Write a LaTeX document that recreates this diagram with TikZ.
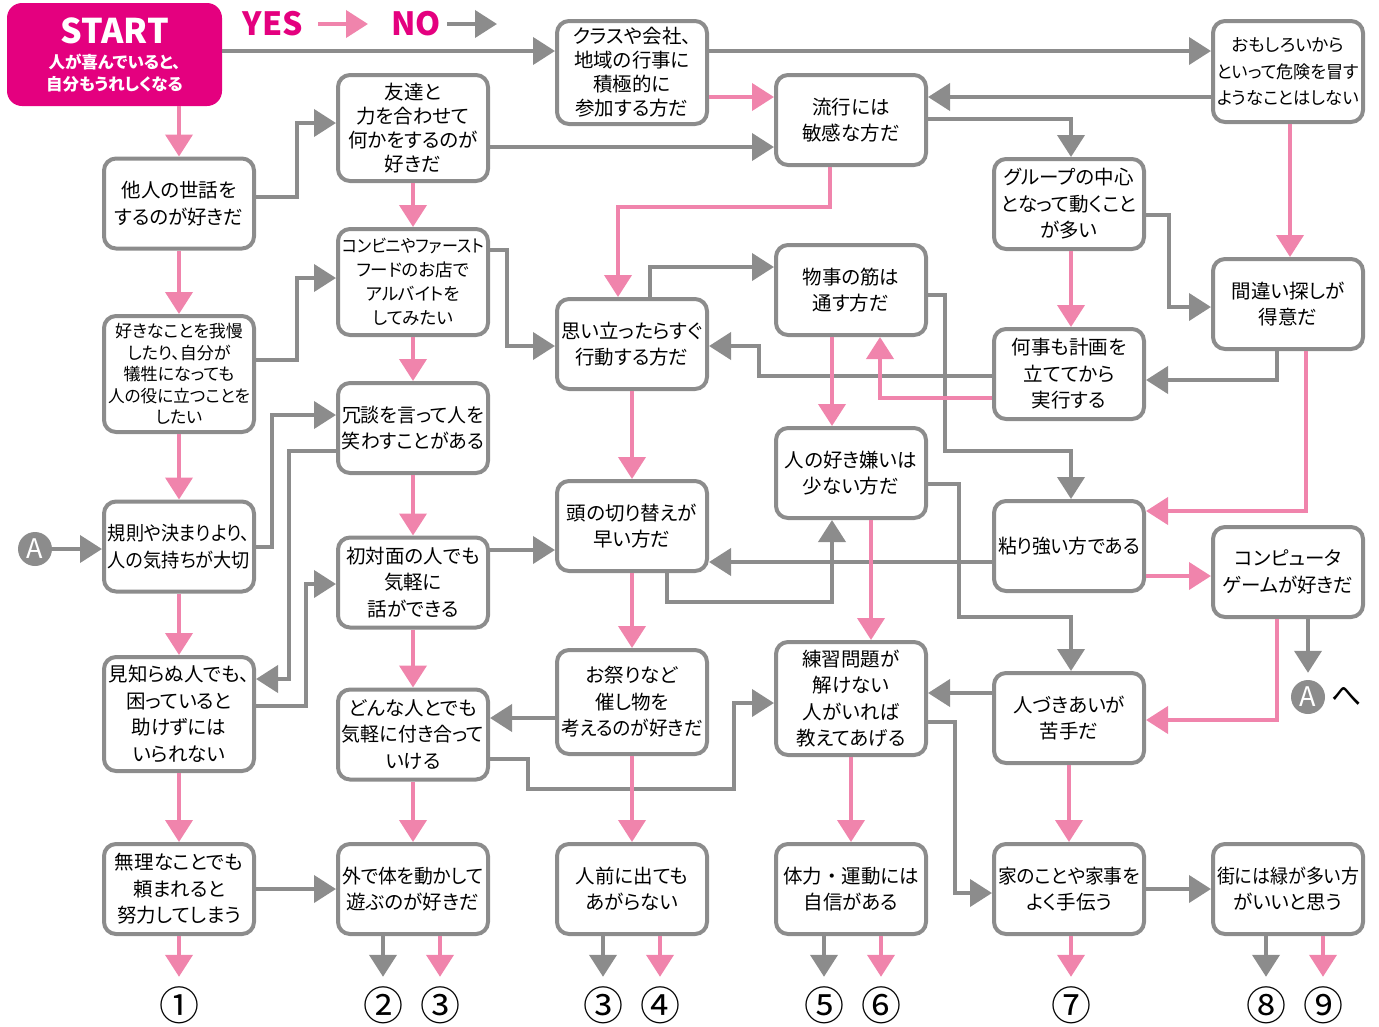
\documentclass[tikz,border=0pt]{standalone}
\usepackage{fontspec}
\setmainfont{Noto Sans CJK JP}[RawFeature=+palt]
\usepackage{graphicx}
\usetikzlibrary{arrows.meta}

\definecolor{nogray}{RGB}{140,140,140}
\definecolor{yespink}{RGB}{240,132,172}
\definecolor{startred}{RGB}{228,0,127}

% squeeze a line that is wider than the box
\newsavebox\fitbox
\newcommand\fitl[1]{\sbox\fitbox{#1}%
  \ifdim\wd\fitbox>142pt\resizebox{142pt}{\height}{\usebox\fitbox}\else\usebox\fitbox\fi}

\tikzset{
  qbox/.style={draw=nogray, line width=4pt, rounded corners=12pt, fill=white,
    minimum width=150pt, minimum height=90pt, inner sep=0pt, align=center,
    font=\fontsize{19.5}{26.5}\selectfont},
  startbox/.style={fill=startred, rounded corners=15pt, minimum width=215pt,
    minimum height=103pt, inner sep=0pt, align=center, text=white,
    font=\bfseries\fontsize{16.5}{22}\selectfont},
  legend/.style={text=startred, inner sep=0pt, font=\bfseries\fontsize{32}{32}\selectfont},
  result/.style={inner sep=0pt, minimum height=56pt, font=\fontsize{40}{40}\selectfont},
  mark A/.style={circle, fill=nogray, text=white, minimum size=34pt, inner sep=0pt,
    font=\fontsize{27}{27}\selectfont},
  gline/.style={draw=nogray, line width=4pt, -{Triangle[length=22pt,width=27pt]}},
  pline/.style={draw=yespink, line width=4pt, -{Triangle[length=22pt,width=27pt]}}
}

\begin{document}
\begin{tikzpicture}[x=1pt,y=-1pt]
  \useasboundingbox (0,0) rectangle (1379,1026);

  % legend
  \node[legend] (yes) at (273,24) {YES};
  \node[legend] (no) at (416,24) {NO};
  \coordinate (yes0) at (318,24);
  \coordinate (yes1) at (368,24);
  \coordinate (no0) at (447,24);
  \coordinate (no1) at (497,24);

  \node[startbox] (0) at (114.5,54.5)
    {{\fontsize{34}{34}\selectfont START}\\[3pt]人が喜んでいると、\\自分もうれしくなる};

  \path[every node/.style=qbox]
    (179,203.5) node (1) {他人の世話を\\\fitl{するのが好きだ}}
    (179,374) node[minimum height=116pt, font=\fontsize{17}{21.5}\selectfont] (2)
      {\fitl{好きなことを我慢}\\\fitl{したり、自分が}\\\fitl{犠牲になっても}\\\fitl{人の役に立つことを}\\したい}
    (179,546.5) node (3) {\fitl{規則や決まりより、}\\\fitl{人の気持ちが大切}}
    (179,714) node[minimum height=114pt] (4) {\fitl{見知らぬ人でも、}\\困っていると\\助けずには\\いられない}
    (179,889) node (5) {\fitl{無理なことでも}\\頼まれると\\\fitl{努力してしまう}}
    (413,128) node[minimum height=106pt, font=\fontsize{19.5}{24}\selectfont] (6)
      {友達と\\力を合わせて\\\fitl{何かをするのが}\\好きだ}
    (413,282) node[minimum height=106pt, font=\fontsize{17.5}{24}\selectfont] (7)
      {\fitl{コンビニやファースト}\\\fitl{フードのお店で}\\アルバイトを\\してみたい}
    (413,428) node (8) {\fitl{冗談を言って人を}\\\fitl{笑わすことがある}}
    (413,582.5) node (9) {\fitl{初対面の人でも}\\気軽に\\話ができる}
    (413,734.5) node (10) {\fitl{どんな人とでも}\\\fitl{気軽に付き合って}\\いける}
    (413,889) node (11) {\fitl{外で体を動かして}\\\fitl{遊ぶのが好きだ}}
    (632,72.5) node[minimum height=103pt, font=\fontsize{19.5}{24}\selectfont] (12)
      {\fitl{クラスや会社、}\\地域の行事に\\積極的に\\参加する方だ}
    (632,344) node (13) {\fitl{思い立ったらすぐ}\\行動する方だ}
    (632,526) node (14) {\fitl{頭の切り替えが}\\早い方だ}
    (632,702) node[minimum height=104pt] (15) {お祭りなど\\催し物を\\\fitl{考えるのが好きだ}}
    (632,889) node (16) {人前に出ても\\あがらない}
    (851,120) node (17) {流行には\\敏感な方だ}
    (851,290) node (18) {物事の筋は\\通す方だ}
    (851,473) node (19) {\fitl{人の好き嫌いは}\\少ない方だ}
    (851,698.5) node[minimum height=113pt] (20) {練習問題が\\解けない\\人がいれば\\教えてあげる}
    (851,889) node (21) {\fitl{体力{\addfontfeature{RawFeature=-palt}・}運動には}\\自信がある}
    (1069,204) node (22) {\fitl{グループの中心}\\\fitl{となって動くこと}\\が多い}
    (1069,374) node (23) {何事も計画を\\立ててから\\実行する}
    (1069,546) node (24) {\fitl{粘り強い方である}}
    (1069,718) node (25) {人づきあいが\\苦手だ}
    (1069,889) node (26) {\fitl{家のことや家事を}\\よく手伝う}
    (1288,71.5) node[minimum height=101pt, font=\fontsize{17.5}{26.5}\selectfont] (27)
      {\fitl{おもしろいから}\\\fitl{といって危険を冒す}\\\fitl{ようなことはしない}}
    (1288,304) node (28) {間違い探しが\\得意だ}
    (1288,572) node (29) {コンピュータ\\\fitl{ゲームが好きだ}}
    (1288,889) node (30) {\fitl{街には緑が多い方}\\がいいと思う};

  \node[mark A] (A) at (35,549) {A};
  \node[mark A] (A2) at (1308,697) {A};
  \node[font=\fontsize{30}{30}\selectfont, inner sep=0pt] (to) at (1347,697) {へ};

  \path[every node/.style=result]
    (179,1005) node (e1) {①}
    (383,1005) node (e2) {②}
    (440,1005) node (e3) {③}
    (603,1005) node (e4) {③}
    (660,1005) node (e5) {④}
    (824,1005) node (e6) {⑤}
    (881,1005) node (e7) {⑥}
    (1071,1005) node (e8) {⑦}
    (1266,1005) node (e9) {⑧}
    (1323,1005) node (e10) {⑨};

  % NO
  \begin{scope}[gline]
    \draw (no0) -- (no1);
    \draw (A) -- (3.west |- A);
    \draw (0.east |- 0,51) -- (12.west |- 0,51);
    \draw (1.east |- 0,197) -| (297,123) -- (6.west |- 0,123);
    \draw (2.east |- 0,360) -| (297,278) -- (7.west |- 0,278);
    \draw (3.east) -| (272,415) -- (8.west |- 0,415);
    \draw (8.west |- 0,451) -| (289,679) -- (4.east |- 0,679);
    \draw (4.east |- 0,706) -| (306,584) -- (9.west |- 0,584);
    \draw (5) -- (11);
    \draw (6.east |- 0,147) -- (17.west |- 0,147);
    \draw (7.east |- 0,250) -| (507,346) -- (13.west |- 0,346);
    \draw (9.east |- 0,550) -- (14.west |- 0,550);
    \draw (10.east |- 0,759) -| (528,789) -| (734,703) -- (20.west |- 0,703);
    \draw (12.east |- 0,51) -- (27.west |- 0,51);
    \draw (27.west |- 0,97) -- (17.east |- 0,97);
    \draw (17.east |- 0,119) -| (22.north -| 1071,0);
    \draw (22.east |- 0,215) -| (1169,307) -- (28.west |- 0,307);
    \draw (13.north -| 650,0) |- (18.west |- 0,267);
    \draw (23.west |- 0,376) -| (759,346) -- (13.east |- 0,346);
    \draw (28.south -| 1277,0) |- (23.east |- 0,380);
    \draw (18.east |- 0,295) -| (945,451) -| (24.north -| 1071,0);
    \draw (14.south -| 667,0) |- (832,602) -- (19.south -| 832,0);
    \draw (24.west |- 0,562) -- (14.east |- 0,562);
    \draw (19.east |- 0,484) -| (959,617) -| (25.north -| 1071,0);
    \draw (15.west |- 0,718) -- (10.east |- 0,718);
    \draw (25.west |- 0,693) -- (20.east |- 0,693);
    \draw (20.east |- 0,722) -| (955,893) -- (26.west |- 0,893);
    \draw (26) -- (30);
    \draw[shorten >=7pt] (29.south -| A2) -- (A2);
    \draw (11.south -| e2) -- (e2);
    \draw (16.south -| e4) -- (e4);
    \draw (21.south -| e6) -- (e6);
    \draw (30.south -| e9) -- (e9);
  \end{scope}

  % YES
  \begin{scope}[pline]
    \draw (yes0) -- (yes1);
    \draw (0.south -| 1) -- (1);
    \draw (1) -- (2);
    \draw (2) -- (3);
    \draw (3) -- (4);
    \draw (4) -- (5);
    \draw (6) -- (7);
    \draw (7) -- (8);
    \draw (8) -- (9);
    \draw (9) -- (10);
    \draw (10) -- (11);
    \draw (12.east |- 0,97) -- (17.west |- 0,97);
    \draw (17.south -| 830,0) |- (618,207) -- (13.north -| 618,0);
    \draw (13) -- (14);
    \draw (14) -- (15);
    \draw (15) -- (16);
    \draw (18.south -| 832,0) -- (19.north -| 832,0);
    \draw (23.west |- 0,398) -| (18.south -| 880,0);
    \draw (19.south -| 871,0) -- (20.north -| 871,0);
    \draw (20) -- (21);
    \draw (22.south -| 1071,0) -- (23.north -| 1071,0);
    \draw (24.east |- 0,576) -- (29.west |- 0,576);
    \draw (25) -- (26);
    \draw (27.south -| 1290,0) -- (28.north -| 1290,0);
    \draw (28.south -| 1306,0) |- (24.east |- 0,511);
    \draw (29.south -| 1277,0) |- (25.east |- 0,720);
    \draw (5) -- (e1);
    \draw (11.south -| e3) -- (e3);
    \draw (16.south -| e5) -- (e5);
    \draw (21.south -| e7) -- (e7);
    \draw (26.south -| e8) -- (e8);
    \draw (30.south -| e10) -- (e10);
  \end{scope}
\end{tikzpicture}
\end{document}
